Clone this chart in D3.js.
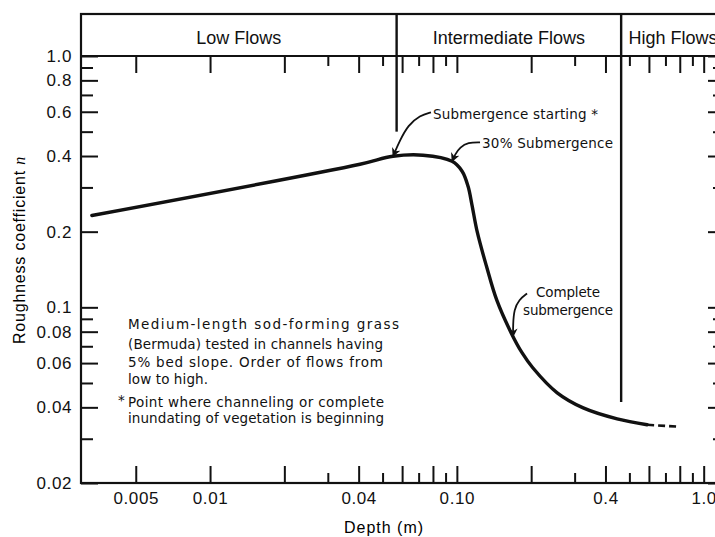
<!DOCTYPE html>
<html>
<head>
<meta charset="utf-8">
<script src="https://cdn.jsdelivr.net/npm/d3@7"></script>
<style>
  body { margin: 0; background: #fff; }
  .tick text { font-family: "Liberation Sans", Arial, sans-serif; font-size: 17px; letter-spacing: 0.6px; fill: #111; }
  .tick line { stroke: #111; stroke-width: 2; }
  .note { font-family: "DejaVu Sans", sans-serif; font-size: 13.5px; fill: #111; }
  .head { font-family: "Liberation Sans", Arial, sans-serif; font-size: 18px; fill: #111; }
</style>
</head>
<body>
<script>
// data
var depth     = [0.00332, 0.0405, 0.0551, 0.0729, 0.0956, 0.105, 0.111, 0.115, 0.121, 0.132, 0.145, 0.1658, 0.1836, 0.203, 0.255, 0.325, 0.446, 0.59];
var roughness = [0.232,   0.371,  0.399,  0.403,  0.381,  0.348, 0.303, 0.257, 0.199, 0.145, 0.107, 0.0793, 0.066, 0.0575, 0.0457, 0.0398, 0.036, 0.0341];
var extDepth = [0.59, 0.787];
var extRough = [0.0341, 0.0335];

var flowNames  = ["Low Flows", "Intermediate Flows", "High Flows"];
var flowBounds = [0.057, 0.463];
var boundEndN  = [0.50, 0.042];

var xMajor = [0.005, 0.01, 0.02, 0.04, 0.06, 0.08, 0.1, 0.2, 0.4, 0.6, 0.8, 1.0];
var xMinor = [0.03, 0.05, 0.07, 0.09, 0.3, 0.5, 0.7, 0.9];
var xLabels = {0.005: "0.005", 0.01: "0.01", 0.04: "0.04", 0.1: "0.10", 0.4: "0.4", 1: "1.0"};
var yMajor = [0.02, 0.04, 0.06, 0.08, 0.1, 0.2, 0.4, 0.6, 0.8, 1.0];
var yMinor = [0.03, 0.05, 0.07, 0.09, 0.3, 0.5, 0.7, 0.9];
var yLabels = ["0.02", "0.04", "0.06", "0.08", "0.1", "0.2", "0.4", "0.6", "0.8", "1.0"];

var noteLines = ["Medium-length sod-forming grass",
                 "(Bermuda) tested in channels having",
                 "5% bed slope. Order of flows from",
                 "low to high.",
                 "Point where channeling or complete",
                 "inundating of vegetation is beginning"];

// Set Margins
var margin = {top: 56, right: -10, bottom: 54, left: 81},
    W = 715, H = 537,
    width = W - margin.left - margin.right,
    height = H - margin.top - margin.bottom,
    headTop = 14;

var svg = d3.select("body")
  .append("svg")
    .attr("width", W)
    .attr("height", H);

var x = d3.scaleLog().domain([0.003, 1.22]).range([margin.left, margin.left + width]);
var y = d3.scaleLog().domain([0.02, 1.0]).range([margin.top + height, margin.top]);

svg.append("defs").append("marker")
    .attr("id", "arrow")
    .attr("viewBox", "0 0 10 10")
    .attr("refX", 9).attr("refY", 5)
    .attr("markerWidth", 9).attr("markerHeight", 9)
    .attr("markerUnits", "userSpaceOnUse")
    .attr("orient", "auto")
  .append("path")
    .attr("d", "M0,0 L10,5 L0,10 L3,5 Z")
    .attr("fill", "#111");

// axes: ticks point inwards on all four sides
function xAxis(gen, ticks, size, yPos, labels) {
  var g = svg.append("g")
    .attr("transform", "translate(0," + yPos + ")")
    .call(gen(x).tickValues(ticks).tickSize(size).tickSizeOuter(0).tickPadding(9)
      .tickFormat(function(d) { return labels ? (xLabels[d] || "") : ""; }));
  g.select(".domain").remove();
  return g;
}
function yAxis(gen, ticks, size, xPos, labels) {
  var g = svg.append("g")
    .attr("transform", "translate(" + xPos + ",0)")
    .call(gen(y).tickValues(ticks).tickSize(size).tickSizeOuter(0).tickPadding(9)
      .tickFormat(function(d, i) { return labels ? yLabels[i] : ""; }));
  g.select(".domain").remove();
  return g;
}

var bottom = margin.top + height, right = margin.left + width;
xAxis(d3.axisBottom, xMajor, -17, bottom, true);
xAxis(d3.axisBottom, xMinor, -10, bottom, false);
xAxis(d3.axisTop, xMajor, -17, margin.top, false);
xAxis(d3.axisTop, xMinor, -10, margin.top, false);
yAxis(d3.axisLeft, yMajor, -17, margin.left, true);
yAxis(d3.axisLeft, yMinor, -12, margin.left, false);
yAxis(d3.axisRight, yMajor, -17, right, false);
yAxis(d3.axisRight, yMinor, -12, right, false);

// frame + header box
svg.append("rect")
  .attr("x", margin.left).attr("y", headTop)
  .attr("width", width).attr("height", bottom - headTop)
  .attr("fill", "none").attr("stroke", "#111").attr("stroke-width", 2.2);
svg.append("line")
  .attr("x1", margin.left).attr("x2", right)
  .attr("y1", margin.top).attr("y2", margin.top)
  .attr("stroke", "#111").attr("stroke-width", 2.2);

// flow regime dividers
svg.selectAll(".divider")
  .data(flowBounds)
  .enter().append("line")
    .attr("class", "divider")
    .attr("x1", function(d) { return x(d); })
    .attr("x2", function(d) { return x(d); })
    .attr("y1", headTop)
    .attr("y2", function(d, i) { return y(boundEndN[i]); })
    .attr("stroke", "#111").attr("stroke-width", 2.4);

var edges = [margin.left].concat(flowBounds.map(function(d) { return x(d); }), [right]);
svg.selectAll(".head")
  .data(flowNames)
  .enter().append("text")
    .attr("class", "head")
    .attr("x", function(d, i) { return (edges[i] + edges[i + 1]) / 2; })
    .attr("y", 44)
    .attr("text-anchor", "middle")
    .text(function(d) { return d; });

// the curve
var pts = depth.map(function(d, i) { return {d: d, n: roughness[i]}; });
var ext = extDepth.map(function(d, i) { return {d: d, n: extRough[i]}; });

var line = d3.line()
  .x(function(p) { return x(p.d); })
  .y(function(p) { return y(p.n); })
  .curve(d3.curveCatmullRom.alpha(0.5));

svg.append("path")
  .datum(pts)
  .attr("d", line)
  .attr("fill", "none")
  .attr("stroke", "#111")
  .attr("stroke-width", 3.4)
  .attr("stroke-linecap", "round");

svg.append("path")
  .datum(ext)
  .attr("d", line)
  .attr("fill", "none")
  .attr("stroke", "#111")
  .attr("stroke-width", 2.6)
  .attr("stroke-dasharray", "7,4");

// callouts: tip sits on the curve, arrow and text offsets in px
var callouts = [
  {tip: [0.0551, 0.399], lines: ["Submergence starting *"], anchor: "start", tx: 40, ty: [-37], w: [165],
   path: [[38, -44], [27, -41], [15, -31], [7, -16], [0, 0]]},
  {tip: [0.0956, 0.381], lines: ["30% Submergence"], anchor: "start", tx: 30, ty: [-13], w: [131],
   path: [[28, -19], [16, -19], [8, -14], [3, -7], [0, 0]]},
  {tip: [0.1689, 0.0765], lines: ["Complete", "submergence"], anchor: "middle", tx: 55, ty: [-40, -22], w: [64, 90],
   path: [[14, -43], [6, -37], [1, -27], [0, -12], [0, 0]]}
];

var arrowLine = d3.line().curve(d3.curveBasis);

callouts.forEach(function(c) {
  var px = x(c.tip[0]), py = y(c.tip[1]);
  svg.append("path")
    .attr("d", arrowLine(c.path.map(function(p) { return [px + p[0], py + p[1]]; })))
    .attr("fill", "none")
    .attr("stroke", "#111")
    .attr("stroke-width", 1.8)
    .attr("marker-end", "url(#arrow)");
  c.lines.forEach(function(t, i) {
    svg.append("text")
      .attr("class", "note")
      .attr("x", px + c.tx)
      .attr("y", py + c.ty[i])
      .attr("text-anchor", c.anchor)
      .attr("textLength", c.w[i])
      .attr("lengthAdjust", "spacing")
      .text(t);
  });
});

// description block
var noteY = [329, 349, 367, 384, 407, 423];
var noteW = [271, 255, 255, 80, 256, 256];
svg.selectAll(".desc")
  .data(noteLines)
  .enter().append("text")
    .attr("class", "note desc")
    .attr("x", 128)
    .attr("y", function(d, i) { return noteY[i]; })
    .attr("textLength", function(d, i) { return noteW[i]; })
    .attr("lengthAdjust", "spacing")
    .text(function(d) { return d; });
svg.append("text")
  .attr("class", "note")
  .attr("x", 118).attr("y", 405)
  .text("*");

// axis titles
svg.append("text")
  .attr("transform", "translate(25,250) rotate(-90)")
  .attr("text-anchor", "middle")
  .style("font-family", "Liberation Sans, Arial, sans-serif")
  .style("font-size", "16px")
  .style("letter-spacing", "0.8px")
  .text("Roughness coefficient ")
  .append("tspan")
    .style("font-style", "italic")
    .style("font-family", "Liberation Serif, serif")
    .text("n");

svg.append("text")
  .attr("x", 384).attr("y", 533)
  .attr("text-anchor", "middle")
  .style("font-family", "Liberation Sans, Arial, sans-serif")
  .style("font-size", "16px")
  .style("letter-spacing", "1px")
  .text("Depth (m)");
</script>
</body>
</html>
